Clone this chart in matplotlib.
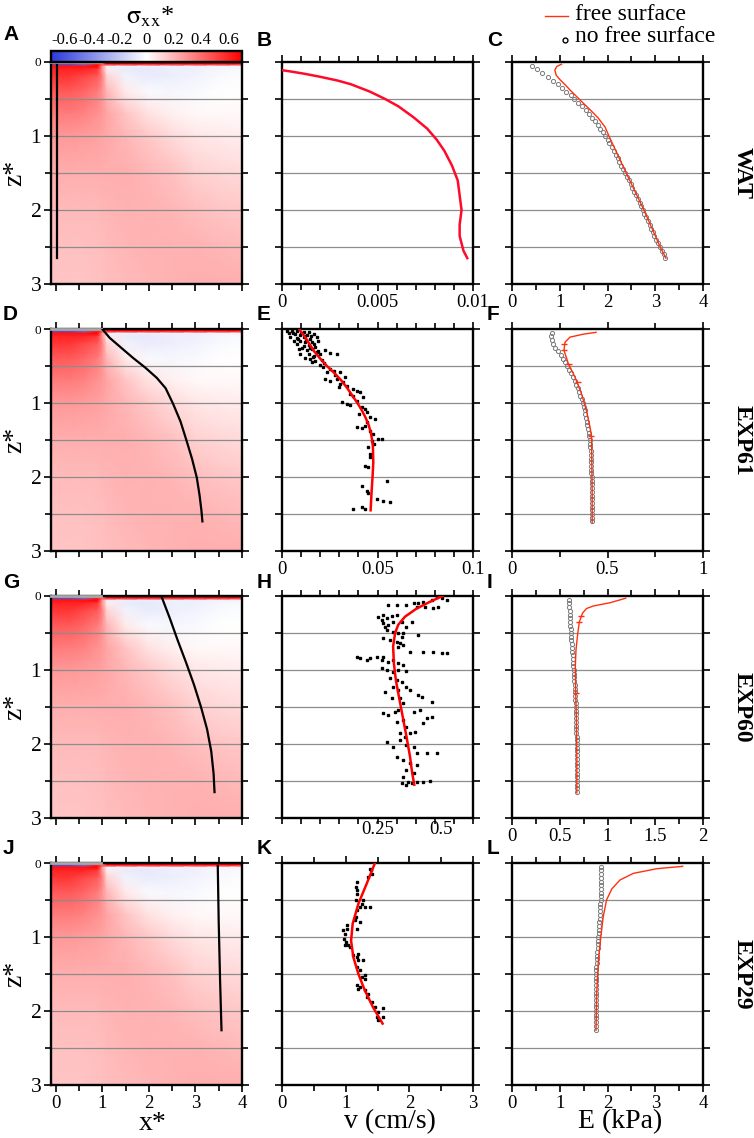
import numpy as np
import matplotlib.pyplot as plt
from matplotlib.colors import LinearSegmentedColormap
from matplotlib.lines import Line2D

plt.rcParams['font.family'] = ['Liberation Serif', 'DejaVu Serif']
plt.rcParams['mathtext.fontset'] = 'stix'

# ---- stress field sigma_xx* (same in the 4 rows) ----
field_x = [-0.1, 0.3, 0.6, 0.9, 1.0, 1.1, 1.5, 2.0, 2.5, 3.0, 3.5, 4.0]
field_z = [0, 0.03, 0.06, 0.1, 0.2, 0.4, 0.7, 1.0, 1.5, 2.0, 2.5, 3.0]
sxx = [
    [-0.7, -0.7, -0.6, 0.0, 0.0, 0.7, 0.7, 0.7, 0.7, 0.7, 0.7, 0.7],
    [-0.6, -0.6, -0.5, 0.6, 0.5, 0.7, 0.7, 0.7, 0.7, 0.7, 0.7, 0.7],
    [0.65, 0.65, 0.65, 0.7, 0.3, -0.05, -0.06, -0.06, -0.05, -0.05, -0.04, -0.04],
    [0.6, 0.6, 0.6, 0.55, 0.3, 0.05, -0.07, -0.08, -0.06, -0.05, -0.03, -0.02],
    [0.55, 0.55, 0.5, 0.45, 0.35, 0.12, -0.04, -0.07, -0.06, -0.04, -0.02, -0.01],
    [0.45, 0.45, 0.42, 0.36, 0.3, 0.2, 0.06, -0.02, -0.03, -0.02, 0.0, 0.0],
    [0.36, 0.36, 0.34, 0.3, 0.28, 0.25, 0.16, 0.08, 0.04, 0.02, 0.02, 0.02],
    [0.28, 0.28, 0.27, 0.26, 0.25, 0.24, 0.2, 0.15, 0.1, 0.07, 0.06, 0.05],
    [0.22, 0.22, 0.22, 0.22, 0.22, 0.22, 0.22, 0.2, 0.17, 0.13, 0.11, 0.1],
    [0.19, 0.19, 0.19, 0.19, 0.2, 0.2, 0.21, 0.21, 0.2, 0.18, 0.16, 0.15],
    [0.17, 0.17, 0.17, 0.18, 0.18, 0.19, 0.2, 0.21, 0.21, 0.21, 0.2, 0.19],
    [0.16, 0.16, 0.16, 0.17, 0.17, 0.18, 0.19, 0.2, 0.21, 0.22, 0.22, 0.22],
]

# black profiles drawn on the stress maps
map_x = {
    'A': [0.02, 0.02],
    'D': [1.0, 1.16, 1.4, 1.66, 1.92, 2.17, 2.36, 2.52, 2.68, 2.81, 2.93, 3.03, 3.09, 3.13, 3.15],
    'G': [2.28, 2.45, 2.62, 2.8, 2.97, 3.12, 3.25, 3.34, 3.39, 3.41],
    'J': [3.48, 3.5, 3.53, 3.56],
}
map_z = {
    'A': [0.04, 2.65],
    'D': [0, 0.12, 0.25, 0.39, 0.52, 0.66, 0.8, 1.01, 1.25, 1.51, 1.76, 2.01, 2.25, 2.46, 2.6],
    'G': [0.02, 0.3, 0.6, 0.9, 1.2, 1.5, 1.8, 2.1, 2.4, 2.65],
    'J': [0.04, 0.8, 1.6, 2.26],
}

# ---- velocity profiles ----
B_z = [0.11, 0.13, 0.16, 0.2, 0.25, 0.3, 0.4, 0.5, 0.6, 0.75, 0.9, 1.05, 1.2, 1.4, 1.6, 1.8, 2.0,
       2.2, 2.35, 2.45, 2.55, 2.65]
B_v = [0.0, 0.0005, 0.0012, 0.0020, 0.0029, 0.0036, 0.0046, 0.0054, 0.0061, 0.0069, 0.0076,
       0.0081, 0.0085, 0.0089, 0.0092, 0.0093, 0.0094, 0.0093, 0.0093, 0.0094, 0.0095, 0.0097]

E_z = [0.01, 0.1, 0.2, 0.3, 0.4, 0.5, 0.6, 0.7, 0.8, 0.9, 1.0, 1.1, 1.2, 1.3, 1.4, 1.5, 1.6, 1.8,
       2.0, 2.2, 2.45]
E_v = [0.0092, 0.0118, 0.0143, 0.0168, 0.0200, 0.0235, 0.0276, 0.0312, 0.0342, 0.0368, 0.0395,
       0.0418, 0.0438, 0.0454, 0.0465, 0.0472, 0.0476, 0.0478, 0.0474, 0.0469, 0.0464]
E_dot_v = [0.0026, 0.0052, 0.0078, 0.0113, 0.0139, 0.0035, 0.0070, 0.0096, 0.0130, 0.0165, 0.0043,
           0.0078, 0.0113, 0.0148, 0.0183, 0.0061, 0.0096, 0.0122, 0.0157, 0.0191, 0.0078, 0.0113,
           0.0139, 0.0174, 0.0087, 0.0130, 0.0157, 0.0191, 0.0226, 0.0096, 0.0139, 0.0165, 0.0200,
           0.0252, 0.0287, 0.0148, 0.0174, 0.0209, 0.0157, 0.0200, 0.0217, 0.0252, 0.0235, 0.0270,
           0.0304, 0.0226, 0.0252, 0.0287, 0.0330, 0.0304, 0.0339, 0.0296, 0.0374, 0.0391, 0.0409,
           0.0357, 0.0426, 0.0313, 0.0339, 0.0357, 0.0391, 0.0417, 0.0435, 0.0443, 0.0461, 0.0487,
           0.0391, 0.0417, 0.0435, 0.0461, 0.0478, 0.0504, 0.0522, 0.0470, 0.0452, 0.0461, 0.0435,
           0.0452, 0.0461, 0.0548, 0.0417, 0.0443, 0.0452, 0.0496, 0.0530, 0.0565, 0.0374, 0.0417,
           0.0435, 0.0060, 0.0100, 0.0120, 0.0150, 0.0085, 0.0125, 0.0170, 0.0105, 0.0145, 0.0185,
           0.0120, 0.0160, 0.0220, 0.0280, 0.0320, 0.0370, 0.0405, 0.0445, 0.0480]
E_dot_z = [0.023, 0.032, 0.032, 0.036, 0.045, 0.059, 0.068, 0.077, 0.077, 0.068, 0.104, 0.122,
           0.113, 0.135, 0.113, 0.158, 0.167, 0.180, 0.180, 0.158, 0.203, 0.225, 0.212, 0.239,
           0.270, 0.284, 0.270, 0.293, 0.284, 0.338, 0.338, 0.360, 0.338, 0.329, 0.338, 0.405,
           0.428, 0.419, 0.450, 0.482, 0.518, 0.541, 0.586, 0.563, 0.586, 0.676, 0.698, 0.676,
           0.653, 0.743, 0.766, 0.788, 0.811, 0.833, 0.856, 0.878, 0.923, 0.991, 1.014, 1.027,
           0.968, 1.059, 1.081, 1.126, 1.194, 1.216, 1.329, 1.338, 1.306, 1.374, 1.419, 1.486,
           1.486, 1.509, 1.599, 1.689, 1.847, 1.869, 1.734, 2.050, 2.117, 2.185, 2.221, 2.297,
           2.320, 2.342, 2.432, 2.410, 2.432, 0.050, 0.050, 0.095, 0.090, 0.140, 0.150, 0.200,
           0.255, 0.250, 0.310, 0.390, 0.380, 0.460, 0.620, 0.720, 0.900, 1.150, 1.250, 1.560]

H_z = [0, 0.077, 0.17, 0.28, 0.39, 0.5, 0.68, 0.91, 1.14, 1.36, 1.63, 1.9, 2.17, 2.4, 2.55]
H_v = [0.506, 0.457, 0.403, 0.357, 0.330, 0.318, 0.310, 0.313, 0.321, 0.333, 0.348, 0.363, 0.377,
       0.386, 0.394]
H_dot_v = [0.483, 0.503, 0.522, 0.463, 0.430, 0.410, 0.391, 0.363, 0.290, 0.324, 0.404, 0.436,
           0.469, 0.489, 0.271, 0.251, 0.265, 0.284, 0.304, 0.324, 0.271, 0.290, 0.278, 0.310,
           0.344, 0.383, 0.363, 0.284, 0.310, 0.331, 0.344, 0.351, 0.410, 0.271, 0.298, 0.324,
           0.337, 0.331, 0.351, 0.377, 0.430, 0.469, 0.503, 0.522, 0.165, 0.178, 0.206, 0.218,
           0.245, 0.265, 0.271, 0.290, 0.310, 0.331, 0.351, 0.265, 0.284, 0.310, 0.331, 0.363,
           0.298, 0.324, 0.344, 0.310, 0.331, 0.363, 0.377, 0.410, 0.424, 0.463, 0.278, 0.304,
           0.337, 0.351, 0.271, 0.290, 0.318, 0.331, 0.391, 0.416, 0.444, 0.463, 0.324, 0.351,
           0.363, 0.430, 0.337, 0.357, 0.377, 0.397, 0.284, 0.310, 0.337, 0.363, 0.391, 0.404,
           0.444, 0.483, 0.324, 0.351, 0.377, 0.404, 0.363, 0.391, 0.351, 0.371, 0.383, 0.404,
           0.430, 0.456, 0.344, 0.363]
H_dot_z = [0.009, 0.032, 0.054, 0.054, 0.077, 0.099, 0.090, 0.122, 0.122, 0.122, 0.144, 0.153,
           0.167, 0.153, 0.257, 0.279, 0.324, 0.302, 0.270, 0.257, 0.369, 0.392, 0.414, 0.347,
           0.347, 0.347, 0.414, 0.459, 0.482, 0.505, 0.550, 0.505, 0.527, 0.572, 0.595, 0.617,
           0.640, 0.685, 0.662, 0.752, 0.752, 0.752, 0.775, 0.766, 0.820, 0.842, 0.865, 0.842,
           0.820, 0.865, 0.820, 0.887, 0.865, 0.910, 0.932, 0.977, 1.000, 1.023, 1.000, 1.009,
           1.113, 1.135, 1.158, 1.225, 1.270, 1.225, 1.270, 1.338, 1.360, 1.428, 1.293, 1.383,
           1.383, 1.450, 1.586, 1.608, 1.563, 1.541, 1.563, 1.541, 1.653, 1.631, 1.698, 1.676,
           1.766, 1.721, 1.856, 1.901, 1.856, 1.833, 1.968, 2.036, 1.946, 2.014, 2.036, 2.126,
           2.126, 2.126, 2.171, 2.216, 2.261, 2.284, 2.351, 2.396, 2.441, 2.509, 2.532, 2.509,
           2.509, 2.495, 2.532, 2.554]

K_z = [0, 0.28, 0.55, 0.82, 1.05, 1.27, 1.5, 1.72, 1.95, 2.17]
K_v = [1.46, 1.33, 1.2, 1.11, 1.085, 1.12, 1.2, 1.30, 1.43, 1.58]
K_dot_v = [1.383, 1.356, 1.174, 1.163, 1.184, 1.174, 1.278, 1.252, 1.304, 1.383, 1.174, 1.163,
           1.148, 1.226, 1.174, 1.017, 0.965, 0.991, 0.981, 1.007, 1.043, 1.069, 1.122, 1.174,
           1.200, 1.278, 1.174, 1.226, 1.304, 1.252, 1.174, 1.200, 1.304, 1.330, 1.409, 1.461,
           1.591, 1.513, 1.591, 1.513, 1.409, 1.393, 1.226, 1.163, 1.017, 0.991, 1.200, 1.304,
           1.226, 1.356, 1.487]
K_dot_z = [0.077, 0.189, 0.257, 0.324, 0.414, 0.369, 0.505, 0.550, 0.595, 0.595, 0.640, 0.730,
           0.775, 0.797, 0.887, 0.842, 0.910, 0.955, 1.023, 1.068, 1.113, 1.135, 1.248, 1.270,
           1.315, 1.315, 1.405, 1.450, 1.518, 1.541, 1.653, 1.698, 1.721, 1.811, 1.878, 1.946,
           1.955, 2.014, 2.081, 2.126, 0.144, 0.099, 0.595, 0.505, 0.887, 1.113, 1.225, 1.563,
           1.676, 1.766, 2.081]

# ---- Young's modulus profiles ----
nf_depth = [round(0.05 * k, 2) for k in range(1, 54)]   # sampling depths of the circles
C_nf = [0.42, 0.53, 0.64, 0.75, 0.86, 0.96, 1.05, 1.14, 1.23, 1.31, 1.39, 1.47, 1.55, 1.62, 1.68,
        1.74, 1.80, 1.85, 1.90, 1.95, 2.00, 2.04, 2.09, 2.13, 2.17, 2.21, 2.25, 2.29, 2.33, 2.37,
        2.41, 2.45, 2.49, 2.52, 2.56, 2.60, 2.63, 2.67, 2.70, 2.74, 2.77, 2.81, 2.84, 2.88, 2.91,
        2.95, 2.98, 3.02, 3.05, 3.09, 3.13, 3.17, 3.21]
F_nf = [0.21, 0.207, 0.21, 0.218, 0.228, 0.242, 0.256, 0.266, 0.277, 0.287, 0.298, 0.309, 0.32,
        0.33, 0.338, 0.345, 0.351, 0.358, 0.365, 0.372, 0.377, 0.381, 0.385, 0.389, 0.392, 0.395,
        0.398, 0.401, 0.404, 0.407, 0.409, 0.411, 0.412, 0.413, 0.414, 0.415, 0.415, 0.416, 0.416,
        0.417, 0.417, 0.418, 0.418, 0.418, 0.419, 0.419, 0.419, 0.42, 0.42, 0.42, 0.42, 0.42]
I_nf = [0.600, 0.601, 0.603, 0.605, 0.607, 0.609, 0.611, 0.613, 0.615, 0.618, 0.620, 0.623, 0.626,
        0.629, 0.632, 0.635, 0.638, 0.641, 0.644, 0.647, 0.650, 0.652, 0.654, 0.656, 0.658, 0.660,
        0.662, 0.664, 0.666, 0.668, 0.670, 0.671, 0.672, 0.673, 0.674, 0.675, 0.676, 0.677, 0.678,
        0.678, 0.679, 0.679, 0.680, 0.680, 0.680, 0.680, 0.680, 0.680, 0.680, 0.680, 0.680, 0.680,
        0.680]
L_nf = [1.865, 1.865, 1.864, 1.863, 1.862, 1.861, 1.86, 1.858, 1.856, 1.854, 1.851, 1.848, 1.845,
        1.841, 1.836, 1.831, 1.826, 1.821, 1.815, 1.81, 1.804, 1.798, 1.792, 1.786, 1.78, 1.775,
        1.772, 1.77, 1.768, 1.766, 1.764, 1.762, 1.761, 1.76, 1.759, 1.758, 1.757, 1.756, 1.755,
        1.754, 1.753, 1.752, 1.751, 1.75, 1.75]

C_fs_z = [0.03, 0.06, 0.11, 0.18, 0.24, 0.31, 0.38, 0.47, 0.56, 0.66, 0.76, 0.88, 1.0, 1.5, 2.0, 2.5, 2.65]
C_fs = [1.04, 0.94, 0.90, 0.93, 1.01, 1.12, 1.22, 1.36, 1.50, 1.66, 1.81, 1.95, 2.03, 2.39, 2.76, 3.10, 3.22]
F_fs_z = [0.045, 0.07, 0.11, 0.18, 0.29, 0.47, 0.65, 0.88, 1.1, 1.33, 1.46, 1.8, 2.2, 2.62]
F_fs = [0.44, 0.374, 0.304, 0.278, 0.273, 0.296, 0.33, 0.365, 0.39, 0.409, 0.417, 0.418, 0.42, 0.42]
I_fs_z = [0.03, 0.09, 0.135, 0.17, 0.23, 0.35, 0.5, 0.73, 0.95, 1.3, 1.7, 2.2, 2.66]
I_fs = [1.19, 1.03, 0.852, 0.78, 0.74, 0.706, 0.69, 0.671, 0.664, 0.668, 0.676, 0.68, 0.68]
L_fs_z = [0.045, 0.077, 0.14, 0.23, 0.35, 0.5, 0.73, 1.0, 1.31, 1.77, 2.26]
L_fs = [3.57, 3.03, 2.54, 2.26, 2.09, 1.98, 1.91, 1.86, 1.81, 1.774, 1.76]

# little glitches on the free-surface curves
F_spk_z = [0.2, 0.28, 0.47, 0.72, 1.44]
F_spk = [0.275, 0.274, 0.30, 0.345, 0.414]
I_spk_z = [0.27, 0.356, 1.315]
I_spk = [0.725, 0.700, 0.672]

row_names = ['WAT', 'EXP61', 'EXP60', 'EXP29']

W, H = 754, 1138
fig = plt.figure(figsize=(W / 100, H / 100), dpi=100)

col_left = [51, 282, 511.7]
col_w = [191, 191, 191.6]
row_top = [62, 329, 596, 863]
row_h = 222

cmap = LinearSegmentedColormap.from_list('sxx', ['#2a3ad8', '#ffffff', '#ff0000'])
grid_col = '#8c8c8c'


def make_ax(r, c):
    ax = fig.add_axes([col_left[c] / W, 1 - (row_top[r] + row_h) / H, col_w[c] / W, row_h / H])
    ax.set_ylim(3, 0)
    for s in ax.spines.values():
        s.set_linewidth(1.7)
    ax.tick_params(which='both', direction='out', top=True, right=True, width=1.2, labelsize=13.5,
                   pad=2)
    ax.tick_params(which='major', length=5)
    ax.tick_params(which='minor', length=4)
    for zz in [0.5, 1.0, 1.5, 2.0, 2.5]:
        ax.axhline(zz, color=grid_col, lw=0.9, zorder=1.5)
    return ax


def x_axis(ax, lim, minor, major, labels, show):
    ax.set_xlim(*lim)
    ax.set_xticks(minor, minor=True)
    ax.set_xticks(major)
    if show:
        ax.set_xticklabels(labels)
    else:
        ax.set_xticklabels([])


mesh_X, mesh_Z = np.meshgrid(field_x, field_z)
letters = [['A', 'B', 'C'], ['D', 'E', 'F'], ['G', 'H', 'I'], ['J', 'K', 'L']]

for r in range(4):
    # ---- column 1: stress map ----
    ax = make_ax(r, 0)
    mesh = ax.pcolormesh(mesh_X, mesh_Z, np.array(sxx), cmap=cmap, vmin=-0.7, vmax=0.7,
                         shading='gouraud', zorder=0)
    ax.plot([-0.1, 0.98], [0.005, 0.005], color='#a8a8a8', lw=2.0, zorder=3, clip_on=False)
    key = letters[r][0]
    ax.plot(map_x[key], map_z[key], color='black', lw=1.6, zorder=4)
    ax.set_yticks([0, 1, 2, 3])
    ax.set_yticks([0.5, 1.5, 2.5], minor=True)
    ax.set_yticklabels(['0', '1', '2', '3'])
    ax.tick_params(axis='y', labelsize=15.5)
    ax.get_yticklabels()[0].set_fontsize(9.5)
    x_axis(ax, (-0.1, 4.0), [0.5, 1.5, 2.5, 3.5], [0, 1, 2, 3, 4], ['0', '1', '2', '3', '4'], r == 3)
    fig.text(15 / W, 1 - (row_top[r] + 111) / H, 'z*', rotation=90, fontsize=20,
             ha='center', va='center')

    # ---- column 2: velocity ----
    ax2 = make_ax(r, 1)
    ax2.set_yticks([0.5 * k for k in range(7)])
    ax2.set_yticklabels([])
    ax3 = make_ax(r, 2)
    ax3.set_yticks([0.5 * k for k in range(7)])
    ax3.set_yticklabels([])

    if r == 0:
        ax2.plot(B_v, B_z, color='#ff0a2a', lw=1.8, zorder=3)
        x_axis(ax2, (0, 0.01), [0.001 * k for k in range(11)], [0, 0.005, 0.01],
               ['0', '0.005', '0.01'], True)
    elif r == 1:
        ax2.plot(E_dot_v, E_dot_z, 's', color='black', ms=1.6, zorder=3)
        ax2.plot(E_v, E_z, color='#ff0000', lw=1.8, zorder=4)
        x_axis(ax2, (0, 0.1), [0.01 * k for k in range(11)], [0, 0.05, 0.1],
               ['0', '0.05', '0.1'], True)
    elif r == 2:
        ax2.plot(H_dot_v, H_dot_z, 's', color='black', ms=1.6, zorder=3)
        ax2.plot(H_v, H_z, color='#ff0000', lw=1.8, zorder=4)
        x_axis(ax2, (-0.131, 0.627),
               [-0.131, -0.055, 0.021, 0.096, 0.172, 0.248, 0.324, 0.4, 0.475, 0.551, 0.627],
               [0.25, 0.5], ['0.25', '0.5'], True)
        ax2.tick_params(axis='x', which='major', length=0)
    else:
        ax2.plot(K_dot_v, K_dot_z, 's', color='black', ms=1.6, zorder=3)
        ax2.plot(K_v, K_z, color='#ff0000', lw=1.8, zorder=4)
        x_axis(ax2, (0, 3), [0.5 * k for k in range(7)], [0, 1, 2, 3],
               ['0', '1', '2', '3'], True)

    # ---- column 3: modulus ----
    nf, fs_z, fs, lim, minor, major, labs = [
        (C_nf, C_fs_z, C_fs, (0, 4), [0.5 * k for k in range(9)], [0, 1, 2, 3, 4], ['0', '1', '2', '3', '4']),
        (F_nf, F_fs_z, F_fs, (0, 1), [0.25 * k for k in range(5)], [0, 0.5, 1], ['0', '0.5', '1']),
        (I_nf, I_fs_z, I_fs, (0, 2), [0.25 * k for k in range(9)], [0, 0.5, 1, 1.5, 2], ['0', '0.5', '1', '1.5', '2']),
        (L_nf, L_fs_z, L_fs, (0, 4), [0.5 * k for k in range(9)], [0, 1, 2, 3, 4], ['0', '1', '2', '3', '4']),
    ][r]
    ax3.plot(nf, nf_depth[:len(nf)], 'o', mfc='none', mec='#7a7a7a', ms=3.0, mew=0.7, zorder=3)
    ax3.plot(fs, fs_z, color='#ff3010', lw=1.0, zorder=4)
    if r == 1:
        ax3.plot(F_spk, F_spk_z, '_', color='#ff3010', ms=4, mew=1.0, zorder=4)
    if r == 2:
        ax3.plot(I_spk, I_spk_z, '_', color='#ff3010', ms=4, mew=1.0, zorder=4)
    x_axis(ax3, lim, minor, major, labs, True)

    # panel letters and row name
    for c, lx in enumerate([3, 257, 487]):
        if r == 0:
            yy = 35 if c == 0 else 40
        else:
            yy = row_top[r] - 14
        fig.text(lx / W, 1 - yy / H, letters[r][c], fontsize=15, fontweight='bold',
                 family='Liberation Sans', ha='left', va='center')
    fig.text(742 / W, 1 - (row_top[r] + 111) / H, row_names[r], rotation=-90, fontsize=17,
             fontweight='bold', ha='center', va='center')

# colorbar on top of panel A
cax = fig.add_axes([51 / W, 1 - 62 / H, 191 / W, 11.5 / H])
cb = fig.colorbar(mesh, cax=cax, orientation='horizontal')
cb.outline.set_linewidth(1.7)
cax.xaxis.set_ticks_position('top')
cb.set_ticks([-0.6, -0.4, -0.2, 0, 0.2, 0.4, 0.6])
cb.set_ticklabels(['-0.6', '-0.4', '-0.2', '0', '0.2', '0.4', '0.6'])
cax.tick_params(length=0, labelsize=12, pad=1.5)
fig.text(150 / W, 1 - 17 / H, r'$\mathrm{σ}_{\mathrm{xx}}$*', fontsize=19, ha='center',
         va='center')

# axis labels of bottom row
fig.text(153 / W, 1 - 1123 / H, 'x*', fontsize=20, ha='center', va='center')
fig.text(390 / W, 1 - 1122 / H, 'v (cm/s)', fontsize=20, ha='center', va='center')
fig.text(620 / W, 1 - 1122 / H, 'E (kPa)', fontsize=20, ha='center', va='center')

# legend
fig.add_artist(Line2D([545 / W, 568 / W], [1 - 16 / H, 1 - 16 / H], color='#ff3010', lw=1.0))
fig.add_artist(Line2D([565 / W], [1 - 40 / H], marker='o', mfc='none', mec='black', ms=3.5, mew=1.0))
fig.text(575 / W, 1 - 15 / H, 'free surface', fontsize=17, ha='left', va='center')
fig.text(575 / W, 1 - 36 / H, 'no free surface', fontsize=17, ha='left', va='center')

fig.savefig('out.png', dpi=100)
